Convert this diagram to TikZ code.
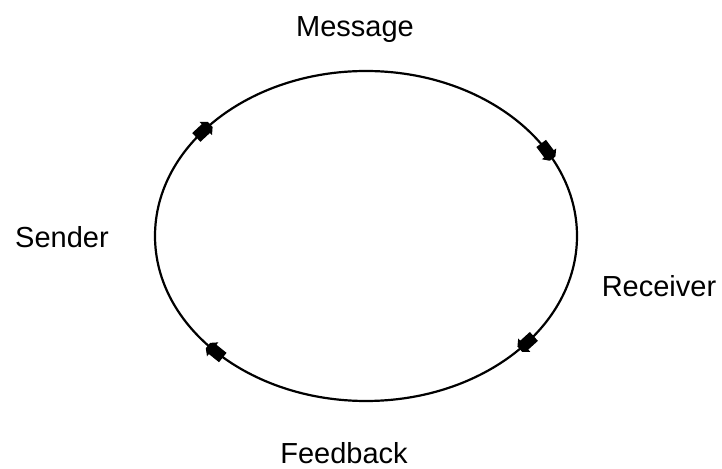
\documentclass[tikz,border=0pt]{standalone}
\usepackage{fontspec}
\setmainfont{Liberation Sans}
\usepackage{tikz}
\usetikzlibrary{calc}

\begin{document}
\begin{tikzpicture}[
  x=1pt,y=1pt,
  font=\fontsize{29}{34}\selectfont,
  label/.style={anchor=base, inner sep=0pt, text=black},
  loop/.style={line width=2.2pt, draw=black},
  flowmark/.pic={
    \fill[black] (-11,-6) -- (2,-6) -- (2,-9) -- (8,-3.5) -- (8,3.5)
      -- (2,9) -- (2,6) -- (-11,6) -- cycle;
  }
]
\useasboundingbox (0,0) rectangle (722,468);

\coordinate (mid) at (366,232);

\node[label] (message)  at (355,431) {Message};
\node[label] (sender)   at (62,220)  {Sender};
\node[label] (receiver) at (659,171) {Receiver};
\node[label] (feedback) at (344,5)   {Feedback};

\draw[loop] (mid) ellipse [x radius=211, y radius=165];

% clockwise markers on the loop
\foreach \t in {140,30.5,-40.8,-136}
  \pic[rotate={atan2(-165*cos(\t),211*sin(\t))}]
    at ($(mid)+({211*cos(\t)},{165*sin(\t)})$) {flowmark};

\end{tikzpicture}
\end{document}
